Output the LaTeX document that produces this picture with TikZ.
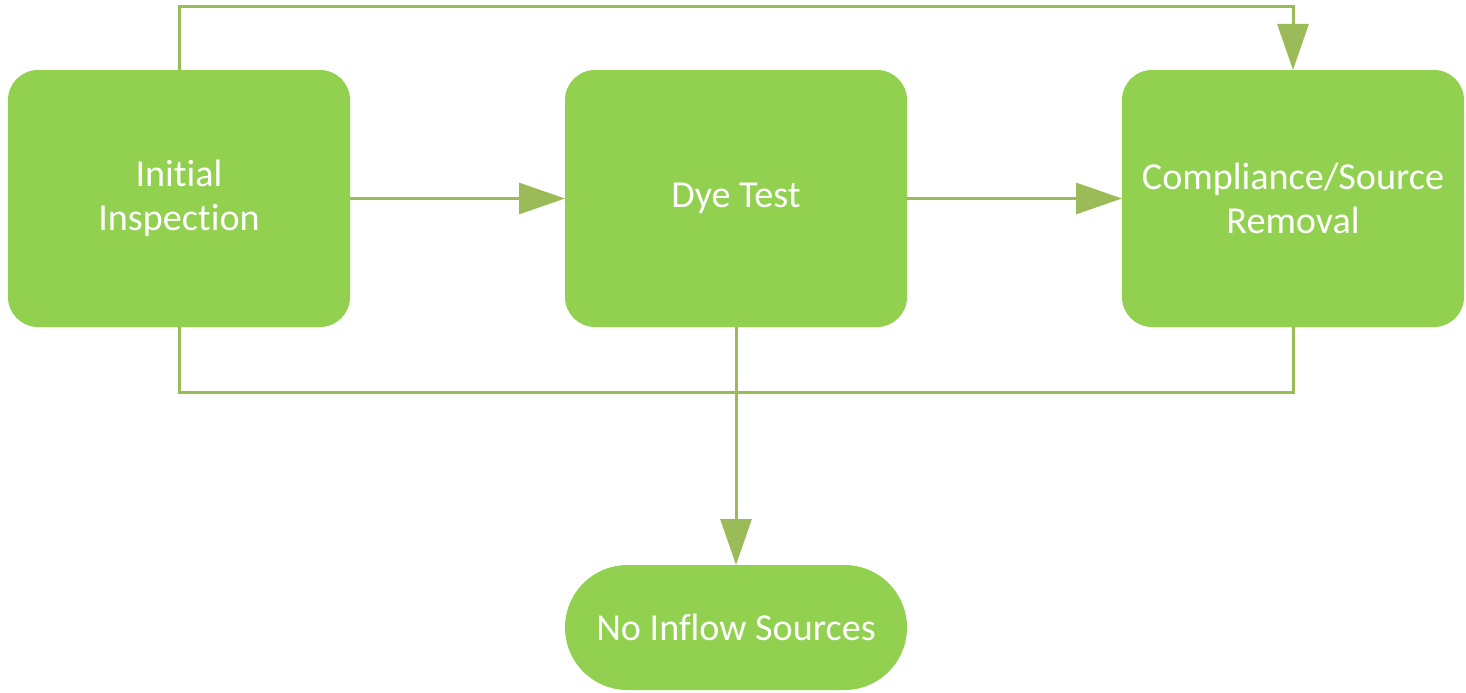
\documentclass[tikz,border=0pt]{standalone}
\usepackage{fontspec}
\setmainfont{Carlito}[RawFeature={-liga}]
\usetikzlibrary{positioning, arrows.meta}

\definecolor{boxgreen}{HTML}{92D050}
\definecolor{linegreen}{HTML}{9BBB59}

\begin{document}
\begin{tikzpicture}
  \newcommand\stepgap{2.15}
  \newcommand\boxwidth{3.42cm}
  \newcommand\boxheight{2.57cm}

  \tikzset{flow/.style={line width=0.03cm, draw=linegreen}}
  \tikzset{flowarr/.style={flow, -{Triangle[length=0.46cm, width=0.31cm, fill=linegreen]}}}
  \tikzset{stepbox/.style={fill=boxgreen, rounded corners=0.3cm, text=white, align=center,
      minimum width=\boxwidth, minimum height=\boxheight, inner sep=0, outer sep=0,
      font=\fontsize{10.85}{12.6}\selectfont}}
  \tikzset{endbox/.style={stepbox, rounded corners=0.625cm, minimum height=1.25cm}}

  \useasboundingbox (0, 0) rectangle (14.66, 6.92);

  % steps
  \node[stepbox] at (1.79, 4.935) (init) {Initial\\Inspection};
  \node[stepbox, right=\stepgap of init] (dye) {Dye Test};
  \node[stepbox, right=\stepgap of dye] (comp) {Compliance/Source\\Removal};
  \node[endbox, below=2.38 of dye] (none) {No Inflow Sources};

  % connectors
  \draw[flowarr] (init) -- (dye);
  \draw[flowarr] (dye) -- (comp);
  \draw[flowarr] (init.north) -- ++(0, 0.63) -| (comp.north);
  \draw[flow] (init.south) -- ++(0, -0.65) -| (comp.south);
  \draw[flowarr] (dye) -- (none);
\end{tikzpicture}
\end{document}
